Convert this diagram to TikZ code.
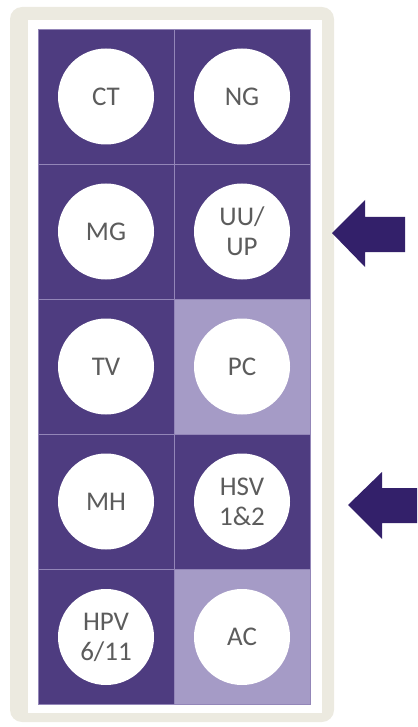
\documentclass[tikz,border=0pt]{standalone}
\usepackage{fontspec}
\setmainfont{Carlito}
\definecolor{frame}{HTML}{ECEAE0}
\definecolor{darkcell}{HTML}{4E3C80}
\definecolor{lightcell}{HTML}{A59BC6}
\definecolor{divider}{HTML}{9386B8}
\definecolor{labelgray}{HTML}{5C5C5C}
\definecolor{pointer}{HTML}{33206A}
\begin{document}
\begin{tikzpicture}[x=1pt,y=-1pt,
  cell/.style={draw=divider,line width=0.7pt,minimum width=136pt,minimum height=135pt,inner sep=0pt,outer sep=0pt},
  dark/.style={cell,fill=darkcell},
  light/.style={cell,fill=lightcell},
  disc/.style={circle,fill=white,minimum size=96pt,inner sep=0pt,text=labelgray,
    font=\fontsize{27}{30}\selectfont,align=center},
  pointerfill/.style={fill=pointer}]
\useasboundingbox (0,0) rectangle (417,727);
% card
\fill[frame,rounded corners=12pt] (10,7) rectangle (334,722);
\fill[white] (28,20) rectangle (322,713);
% grid of cells
\foreach \r/\y in {1/96.5,2/231.5,3/366.5,4/501.5,5/637}{
  \node[dark] (L\r) at (106,\y) {};
}
\node[dark]  (R1) at (242,96.5) {};
\node[dark]  (R2) at (242,231.5) {};
\node[light] (R3) at (242,366.5) {};
\node[dark]  (R4) at (242,501.5) {};
\node[light] (R5) at (242,637) {};
% discs
\node[disc] (ct)  at (L1) {CT};
\node[disc] (ng)  at (R1) {NG};
\node[disc] (mg)  at (L2) {MG};
\node[disc] (uu)  at (R2) {UU/\\UP};
\node[disc] (tv)  at (L3) {TV};
\node[disc] (pc)  at (R3) {PC};
\node[disc] (mh)  at (L4) {MH};
\node[disc] (hsv) at (R4) {HSV\\1\&2};
\node[disc] (hpv) at (L5) {HPV\\6/11};
\node[disc] (ac)  at (R5) {AC};
% pointers
\fill[pointerfill] (332,233) -- (365,200) -- (365,217) -- (405,217) -- (405,252)
  -- (365,252) -- (365,267) -- cycle;
\fill[pointerfill] (348,505) -- (382,472) -- (382,488) -- (417,488) -- (417,523)
  -- (382,523) -- (382,539) -- cycle;
\end{tikzpicture}
\end{document}
